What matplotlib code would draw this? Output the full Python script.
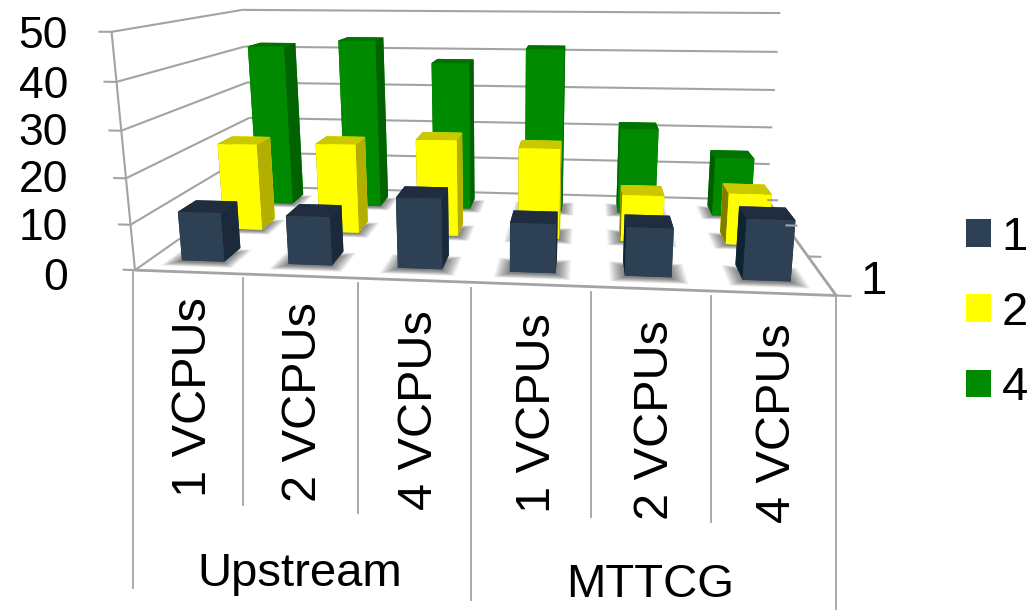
import numpy as np
import matplotlib
matplotlib.use("Agg")
import matplotlib.pyplot as plt
from matplotlib.lines import Line2D
from matplotlib.patches import Patch
from matplotlib.transforms import IdentityTransform
from mpl_toolkits.mplot3d.art3d import Poly3DCollection

plt.rcParams['font.family'] = ['Liberation Sans', 'DejaVu Sans']

W, H = 1029, 610

vcpus = ["1 VCPUs", "2 VCPUs", "4 VCPUs", "1 VCPUs", "2 VCPUs", "4 VCPUs"]
groups = ["Upstream", "MTTCG"]
series_names = ["1", "2", "4"]
series_1 = [11.0, 10.8, 15.5, 10.7, 10.5, 13.0]
series_2 = [21.0, 21.5, 23.0, 21.5, 11.0, 12.0]
series_4 = [41.8, 43.5, 38.0, 41.8, 22.0, 15.0]
z_ticks = [0, 10, 20, 30, 40, 50]

# face colours per series: bottom, top, front, back, left, right
navy = ['#2E4054', '#202D3F', '#2E4054', '#2E4054', '#0F2433', '#1A2A3A']
yellow = ['#FFFF00', '#CCC800', '#FFFF00', '#FFFF00', '#807C00', '#B3AF00']
green = ['#008A00', '#007400', '#008A00', '#008A00', '#005E00', '#006200']
GRID = '#A3A3A3'

# Perspective camera: (category, depth, value, 1) -> homogeneous canvas pixel, y up
CAMERA = np.array([[106.364, 69.7054, -0.602286, 134.979],
                   [-8.18544, 78.0524, 4.06984, 339.883],
                   [-0.0125656, 0.118602, -0.00120336, 1.0]])

fig = plt.figure(figsize=(W/100, H/100), dpi=100)
side = W / H
ax = fig.add_axes([0, (1 - side)/2, 1, side], projection='3d', computed_zorder=False)
ax.set_axis_off()


def camera_matrix():
    A = ax.transData.inverted().get_matrix() @ CAMERA
    return np.vstack([A[0], A[1], [0, 0, 0, -1], CAMERA[2]])


ax.get_proj = camera_matrix


def grid_line(p, q, z=1, lw=1.5):
    ax.plot(*zip(p, q), color=GRID, lw=lw, zorder=z, solid_capstyle='butt')


# walls and floor edges
for v in z_ticks:
    grid_line((0, 0, v), (0, 3, v))
    grid_line((0, 3, v), (6, 3, v))
    grid_line((-0.115, 0, v), (0, 0, v))
grid_line((0, 0, 0), (0, 0, 50))
grid_line((0, 0, 0), (6, 0, 0), lw=2)
grid_line((6, 0, 0), (6, 3, 0), lw=2)
for d in (0, 1, 2, 3):
    grid_line((6, d, 0), (6.12, d, 0), z=20)

bar_w = 0.40
all_series = [(series_4, green, 2.5), (series_2, yellow, 1.5), (series_1, navy, 0.5)]
for layer, (values, faces, depth) in enumerate(all_series):
    # soft contact shadows on the floor
    for i in range(len(values)):
        x0, y0 = i + 0.5 - bar_w/2, depth - bar_w/2
        for m in np.linspace(0.13, 0.0, 16):
            quad = [(x0 - m, y0 - m - 0.03, 0), (x0 + bar_w + m, y0 - m - 0.03, 0),
                    (x0 + bar_w + m, y0 + bar_w*0.6 + m, 0), (x0 - m, y0 + bar_w*0.6 + m, 0)]
            ax.add_collection3d(Poly3DCollection([quad], facecolors=[(0, 0, 0, 0.04)],
                                                 edgecolors='none', zorder=3 + layer*2))
    for i, val in enumerate(values):
        col = ax.bar3d([i + 0.5 - bar_w/2], [depth - bar_w/2], [0],
                       bar_w, bar_w, [val], color=faces, shade=False)
        col.set_zorder(4 + layer*2)

# value axis numbers
for v, ypx in zip(z_ticks, (278, 229, 181, 134, 87, 36)):
    fig.text(68/W, 1 - ypx/H, str(v), fontsize=32, ha='right', va='center')

# category dividers and labels, in canvas pixels
tops = [(133, 270, 588), (243, 278, 505), (358, 283, 513), (471, 288, 600),
        (591, 292, 517), (711, 296, 522), (836, 296, 610)]
for x, y0, y1 in tops:
    fig.add_artist(Line2D([x, x], [H - y0, H - y1], color=GRID, lw=1.3,
                          transform=IdentityTransform()))
for label, x, y in zip(vcpus, (193, 304, 419, 538, 655, 778), (397, 402, 410, 413, 420, 423)):
    fig.text(x/W, 1 - y/H, label, fontsize=35, rotation=90, ha='center', va='center')
for label, x, y in zip(groups, (300, 650), (574, 585)):
    fig.text(x/W, 1 - y/H, label, fontsize=34, ha='center', va='center')
fig.text(873/W, 1 - 282/H, "1", fontsize=34, ha='center', va='center')

handles = [Patch(facecolor=c, label=n) for c, n in zip(('#2E4054', '#FFFF00', '#008A00'), series_names)]
fig.legend(handles=handles, loc='center left', bbox_to_anchor=(966/W, 1 - 313/H), frameon=False,
           fontsize=34, handlelength=0.53, handleheight=0.53, handletextpad=0.22,
           labelspacing=0.66, borderpad=0, borderaxespad=0)

fig.savefig("out.png", dpi=100)
